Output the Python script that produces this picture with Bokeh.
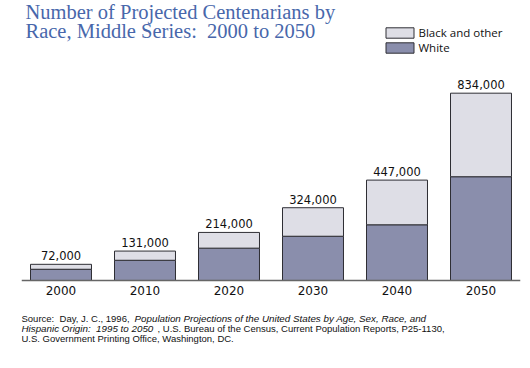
from bokeh.plotting import figure
from bokeh.models import ColumnDataSource, FactorRange, Range1d, Label, Legend, LegendItem
from bokeh.embed import file_html
from bokeh.resources import INLINE
from bokeh.core.properties import value

# ---- data ----
years = ["2000", "2010", "2020", "2030", "2040", "2050"]
white = [50000, 90000, 144000, 197000, 248000, 462000]
black_other = [22000, 41000, 70000, 127000, 199000, 372000]
total_labels = ["72,000", "131,000", "214,000", "324,000", "447,000", "834,000"]

NB2 = " \u00a0"  # a double space that survives in SVG text
title_lines = ["Number of Projected Centenarians by",
               "Race, Middle Series:" + NB2 + "2000 to 2050"]
series_names = ["White", "Black and other"]

# ---- styles ----
C_WHITE = "#8a8eac"
C_BLACK = "#dedee6"
C_EDGE = "#2e2e34"
C_TITLE = "#4867ab"

totals = [w + b for w, b in zip(white, black_other)]
src = ColumnDataSource(dict(years=years, white=white, black_other=black_other,
                            total=totals, labels=total_labels))

p = figure(width=530, height=368,
           x_range=FactorRange(factors=years, range_padding=-0.0298,
                               range_padding_units="absolute"),
           y_range=Range1d(-293900, 1246700),
           output_backend="svg", toolbar_location=None,
           y_axis_location=None,
           min_border_left=21, min_border_right=10,
           min_border_top=0, min_border_bottom=22)
p.outline_line_color = None
p.xgrid.grid_line_color = None
p.ygrid.grid_line_color = None
p.background_fill_color = "white"
p.border_fill_color = "white"

rs = p.vbar_stack(["white", "black_other"], x="years", width=0.726,
                  fill_color=[C_WHITE, C_BLACK], line_color=C_EDGE,
                  line_width=1, source=src)

p.text(x="years", y="total", text="labels", source=src,
       text_align="center", text_baseline="alphabetic", y_offset=-8.5,
       text_font=value("DejaVu Sans"), text_font_size="11.5px",
       text_color="#111111")

ax = p.xaxis[0]
ax.fixed_location = 0
ax.axis_line_color = "#666666"
ax.axis_line_width = 1.5
ax.major_tick_line_color = None
ax.minor_tick_line_color = None
ax.major_tick_out = 0
ax.major_tick_in = 0
ax.major_label_standoff = 6
ax.major_label_text_font = "DejaVu Sans"
ax.major_label_text_font_size = "12px"
ax.major_label_text_color = "#111111"

legend = Legend(items=[LegendItem(label=series_names[1], renderers=[rs[1]]),
                       LegendItem(label=series_names[0], renderers=[rs[0]])],
                location=(360.5, 291), padding=0, margin=0, spacing=-3,
                glyph_width=35, glyph_height=13, label_height=11,
                label_standoff=2, border_line_color=None,
                background_fill_alpha=0,
                label_text_font="Open Sans", label_text_font_size="11.5px",
                label_text_color="#111111", label_text_baseline="middle")
p.add_layout(legend)

for txt, y in zip(title_lines, [335, 315.3]):
    p.add_layout(Label(x=4, y=y, x_units="screen", y_units="screen", text=txt,
                       text_font="Liberation Serif", text_font_size="20.5px",
                       text_color=C_TITLE, text_baseline="alphabetic"))

SRC_FONT = "Liberation Sans"
source_parts = [
    (0, 28, "Source:" + NB2 + "Day, J. C., 1996, ", "normal", "9.5px"),
    (113, 28, "Population Projections of the United States by Age, Sex, Race, and", "italic", "9.8px"),
    (0, 18, "Hispanic Origin:" + NB2 + "1995 to 2050", "italic", "9.8px"),
    (136, 18, ", U.S. Bureau of the Census, Current Population Reports, P25-1130,", "normal", "9.5px"),
    (0, 8, "U.S. Government Printing Office, Washington, DC.", "normal", "9.5px"),
]
for x, y, txt, style, size in source_parts:
    p.add_layout(Label(x=x, y=y, x_units="screen", y_units="screen", text=txt,
                       text_font=SRC_FONT, text_font_size=size,
                       text_font_style=style, text_color="#111111",
                       text_baseline="alphabetic"))

open("out.html", "w").write(file_html(p, INLINE))
